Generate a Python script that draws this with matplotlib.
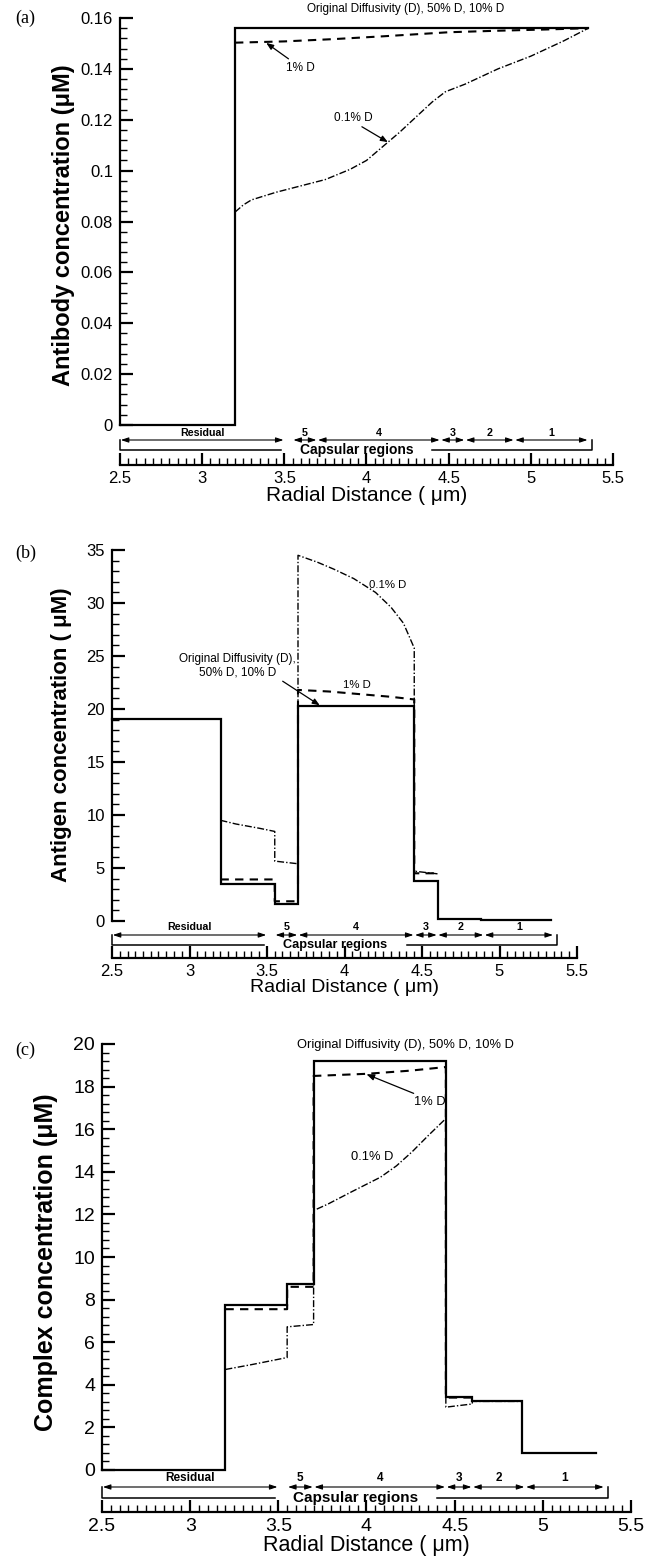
import matplotlib
matplotlib.use('Agg')
import matplotlib.pyplot as plt
import numpy as np

plt.rcParams['font.family'] = ['Liberation Sans', 'DejaVu Sans']

W, H = 651, 1563

# ---------------- data ----------------
# Panel (a) antibody concentration
a_solid_x = [2.5, 3.2, 3.2, 5.35]
a_solid_y = [0.0, 0.0, 0.156, 0.156]
a_1pct_x = [3.2, 3.5, 3.8, 4.1, 4.5, 4.8, 5.1, 5.35]
a_1pct_y = [0.1503, 0.1508, 0.1517, 0.1528, 0.1544, 0.1550, 0.1555, 0.1560]
a_01pct_x = [3.2, 3.25, 3.3, 3.45, 3.6, 3.75, 3.9, 4.0, 4.1, 4.2, 4.3, 4.4,
             4.48, 4.6, 4.8, 5.0, 5.2, 5.35]
a_01pct_y = [0.0837, 0.0865, 0.0885, 0.0915, 0.094, 0.0965, 0.1005, 0.104,
             0.1095, 0.115, 0.121, 0.127, 0.131, 0.134, 0.140, 0.145, 0.151, 0.156]

# Panel (b) antigen concentration
b_solid_x = [2.5, 3.2, 3.2, 3.55, 3.55, 3.7, 3.7, 4.45, 4.45, 4.6, 4.6, 4.88, 4.88, 5.33]
b_solid_y = [19.1, 19.1, 3.5, 3.5, 1.65, 1.65, 20.3, 20.3, 3.8, 3.8, 0.15, 0.15, 0.05, 0.05]
b_1pct_x = [3.2, 3.55, 3.55, 3.7, 3.7, 3.9, 4.1, 4.3, 4.45, 4.45, 4.6]
b_1pct_y = [3.92, 3.92, 1.86, 1.86, 21.8, 21.65, 21.4, 21.15, 20.9, 4.5, 4.5]
b_01pct_x = [3.2, 3.3, 3.45, 3.55, 3.55, 3.7, 3.7, 3.825, 3.93, 4.06, 4.2, 4.3,
             4.38, 4.45, 4.45, 4.6]
b_01pct_y = [9.5, 9.15, 8.75, 8.45, 5.65, 5.4, 34.5, 33.85, 33.2, 32.3, 31.0, 29.6,
             28.1, 25.75, 4.7, 4.45]

# Panel (c) complex concentration
c_solid_x = [2.5, 3.2, 3.2, 3.55, 3.55, 3.7, 3.7, 4.45, 4.45, 4.6, 4.6, 4.88, 4.88, 5.3]
c_solid_y = [0.0, 0.0, 7.75, 7.75, 8.75, 8.75, 19.2, 19.2, 3.45, 3.45, 3.25, 3.25, 0.78, 0.78]
c_1pct_x = [3.2, 3.55, 3.55, 3.7, 3.7, 4.0, 4.25, 4.45, 4.45, 4.6]
c_1pct_y = [7.55, 7.55, 8.6, 8.6, 18.5, 18.6, 18.75, 18.92, 3.4, 3.4]
c_01pct_x = [3.2, 3.35, 3.55, 3.55, 3.7, 3.7, 3.78, 3.92, 4.08, 4.17, 4.26, 4.35,
             4.45, 4.45, 4.6, 4.6, 4.88]
c_01pct_y = [4.72, 4.95, 5.28, 6.72, 6.83, 12.18, 12.48, 13.08, 13.75, 14.28, 14.95,
             15.7, 16.5, 2.95, 3.1, 3.22, 3.22]

# Region annotation
region_names = ['Residual', '5', '4', '3', '2', '1']
region_start = [2.5, 3.55, 3.7, 4.45, 4.6, 4.9]
region_end = [3.5, 3.7, 4.45, 4.6, 4.9, 5.35]

x_major = np.arange(2.5, 5.51, 0.5)
x_labels = ['2.5', '3', '3.5', '4', '4.5', '5', '5.5']

fig = plt.figure(figsize=(W / 100, H / 100), dpi=100)


def make_axes(left, right, top, zero, axis, ymax):
    rect = [left / W, 1 - axis / H, (right - left) / W, (axis - top) / H]
    ax = fig.add_axes(rect)
    ppu = (zero - top) / ymax
    ymin = -(axis - zero) / ppu
    ax.set_xlim(2.5, 5.5)
    ax.set_ylim(ymin, ymax)
    return ax, ppu


def style(ax, ymax, ymaj, ymin_step, yfmt, fs):
    for s in ['top', 'right']:
        ax.spines[s].set_visible(False)
    ax.spines['left'].set_bounds(0, ymax)
    ax.spines['left'].set_linewidth(1.6)
    ax.spines['bottom'].set_linewidth(1.6)
    ax.set_xticks(x_major)
    ax.set_xticklabels(x_labels)
    ax.set_xticks(np.arange(2.5, 5.501, 0.05), minor=True)
    yt = np.arange(0, ymax + 1e-9, ymaj)
    ax.set_yticks(yt)
    ax.set_yticklabels([yfmt(v) for v in yt])
    ax.set_yticks(np.arange(0, ymax + 1e-9, ymin_step), minor=True)
    ax.tick_params(which='major', direction='in', length=9, width=1.6, labelsize=fs)
    ax.tick_params(which='minor', direction='in', length=5, width=1.0)
    ax.tick_params(axis='x', pad=4)
    ax.tick_params(axis='y', pad=5)


def regions(ax, ppu, offs, fs_lab, fs_cap):
    y_lab = -offs[0] / ppu
    y_arr = -offs[1] / ppu
    y_br = -offs[2] / ppu
    for name, a, b in zip(region_names, region_start, region_end):
        ax.annotate('', xy=(b - 0.005, y_arr), xytext=(a + 0.005, y_arr),
                    arrowprops=dict(arrowstyle='<|-|>,head_length=0.45,head_width=0.15',
                                    lw=0.8, color='k', shrinkA=0, shrinkB=0),
                    annotation_clip=False)
        ax.text((a + b) / 2, y_lab, name, ha='center', va='center',
                fontsize=fs_lab, fontweight='bold')
    ax.plot([2.5, 2.5, 3.48], [y_arr, y_br, y_br], color='k', lw=1.1, clip_on=False)
    ax.plot([4.4, 5.37, 5.37], [y_br, y_br, y_arr], color='k', lw=1.1, clip_on=False)
    ax.text(3.94, y_br, 'Capsular regions', ha='center', va='center',
            fontsize=fs_cap, fontweight='bold')


def series(ax, sx, sy, dx, dy, ddx, ddy):
    ax.plot(sx, sy, color='k', lw=1.6, solid_joinstyle='miter', clip_on=False)
    ax.plot(dx, dy, color='k', lw=1.5, dashes=(4, 3), clip_on=False)
    ax.plot(ddx, ddy, color='k', lw=1.0, dashes=(5, 1.5, 1, 1.5), clip_on=False)


def ylabel(text, xc, yc, fs):
    fig.text(xc / W, 1 - yc / H, text, rotation=90, ha='center', va='center',
             fontsize=fs, fontweight='bold')


arr = dict(arrowstyle='-|>,head_length=0.5,head_width=0.2', lw=0.9, color='k',
           shrinkA=0, shrinkB=0)

# ---------------- panel (a) ----------------
axA, ppuA = make_axes(120, 613, 18, 425, 465, 0.16)
series(axA, a_solid_x, a_solid_y, a_1pct_x, a_1pct_y, a_01pct_x, a_01pct_y)
style(axA, 0.16, 0.02, 0.004, lambda v: '0' if v == 0 else ('%.2f' % v).rstrip('0'), 12)
regions(axA, ppuA, (8, 15, 25), 7.7, 10)
axA.set_xlabel('Radial Distance ( μm)', fontsize=15, labelpad=0)
ylabel('Antibody concentration (μM)', 64, 225, 17)
axA.text(4.24, 0.1635, 'Original Diffusivity (D), 50% D, 10% D', ha='center',
         va='center', fontsize=8.5)
axA.annotate('1% D', xy=(3.39, 0.1502), xytext=(3.6, 0.1405), ha='center', va='center',
             fontsize=8.5, arrowprops=arr)
axA.annotate('0.1% D', xy=(4.13, 0.1112), xytext=(3.92, 0.1207), ha='center', va='center',
             fontsize=8.5, arrowprops=dict(arr, relpos=(0.6, 0.0)))
fig.text(15 / W, 1 - 18 / H, '(a)', family='Liberation Serif', fontsize=13,
         ha='left', va='center')

# ---------------- panel (b) ----------------
axB, ppuB = make_axes(112, 577, 550, 921, 958, 35)
series(axB, b_solid_x, b_solid_y, b_1pct_x, b_1pct_y, b_01pct_x, b_01pct_y)
style(axB, 35, 5, 1, lambda v: '%d' % v, 12)
regions(axB, ppuB, (6, 14, 24), 7.7, 9.2)
axB.set_xlabel('Radial Distance ( μm)', fontsize=14, labelpad=0)
ylabel('Antigen concentration ( μM)', 62, 735, 16)
axB.text(4.28, 31.7, '0.1% D', ha='center', va='center', fontsize=8.2)
axB.text(4.08, 22.3, '1% D', ha='center', va='center', fontsize=8.2)
axB.annotate('Original Diffusivity (D),\n50% D, 10% D', xy=(3.84, 20.35),
             xytext=(3.31, 24.1), ha='center', va='center', fontsize=8.5,
             arrowprops=dict(arr, relpos=(0.85, 0.0)))
fig.text(15 / W, 1 - 553 / H, '(b)', family='Liberation Serif', fontsize=13,
         ha='left', va='center')

# ---------------- panel (c) ----------------
axC, ppuC = make_axes(102, 631, 1044, 1470, 1512, 20)
series(axC, c_solid_x, c_solid_y, c_1pct_x, c_1pct_y, c_01pct_x, c_01pct_y)
style(axC, 20, 2, 0.4, lambda v: '%d' % v, 14)
regions(axC, ppuC, (8, 17, 28), 8.5, 11)
axC.set_xlabel('Radial Distance ( μm)', fontsize=15.5, labelpad=0)
ylabel('Complex concentration (μM)', 46, 1262, 18)
axC.text(4.22, 19.95, 'Original Diffusivity (D), 50% D, 10% D', ha='center',
         va='center', fontsize=9.3)
axC.annotate('1% D', xy=(4.0, 18.58), xytext=(4.36, 17.27), ha='center', va='center',
             fontsize=9.3, arrowprops=dict(arr, relpos=(0.2, 1.0)))
axC.text(4.03, 14.7, '0.1% D', ha='center', va='center', fontsize=9.3)
fig.text(15 / W, 1 - 1050 / H, '(c)', family='Liberation Serif', fontsize=13,
         ha='left', va='center')

fig.savefig('out.png', dpi=100)
